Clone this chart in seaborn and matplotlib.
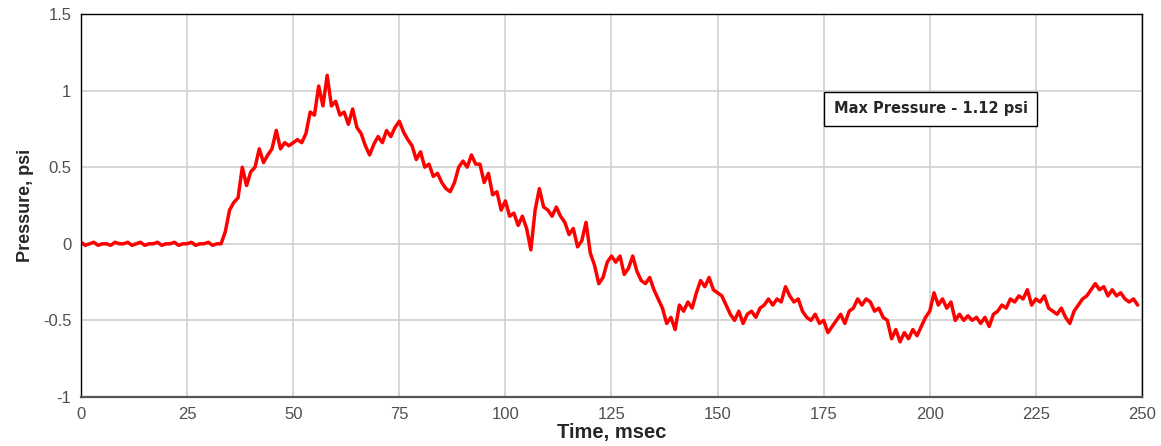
import pandas as pd
import matplotlib
matplotlib.use("Agg")
import matplotlib.pyplot as plt
import seaborn as sns

# Pressure trace, one sample per msec (0..249)
time_ms = list(range(250))
pressure_psi = [
    0.01, -0.01, 0.00, 0.01, -0.01, 0.00, 0.00, -0.01, 0.01, 0.00,
    0.00, 0.01, -0.01, 0.00, 0.01, -0.01, 0.00, 0.00, 0.01, -0.01,
    0.00, 0.00, 0.01, -0.01, 0.00, 0.00, 0.01, -0.01, 0.00, 0.00,
    0.01, -0.01, 0.00, 0.00, 0.08, 0.22, 0.27, 0.30, 0.50, 0.38,
    0.47, 0.50, 0.62, 0.53, 0.58, 0.62, 0.74, 0.62, 0.66, 0.64,
    0.66, 0.68, 0.66, 0.72, 0.86, 0.84, 1.03, 0.90, 1.10, 0.90,
    0.93, 0.84, 0.86, 0.78, 0.88, 0.76, 0.72, 0.64, 0.58, 0.65,
    0.70, 0.66, 0.74, 0.70, 0.76, 0.80, 0.73, 0.68, 0.64, 0.55,
    0.60, 0.50, 0.52, 0.44, 0.46, 0.40, 0.36, 0.34, 0.40, 0.50,
    0.54, 0.50, 0.58, 0.52, 0.52, 0.40, 0.46, 0.32, 0.34, 0.22,
    0.28, 0.18, 0.20, 0.12, 0.18, 0.10, -0.04, 0.22, 0.36, 0.24,
    0.22, 0.18, 0.24, 0.18, 0.14, 0.06, 0.10, -0.02, 0.02, 0.14,
    -0.06, -0.14, -0.26, -0.22, -0.12, -0.08, -0.12, -0.08, -0.20, -0.16,
    -0.08, -0.18, -0.24, -0.26, -0.22, -0.30, -0.36, -0.42, -0.52, -0.48,
    -0.56, -0.40, -0.44, -0.38, -0.42, -0.32, -0.24, -0.28, -0.22, -0.30,
    -0.32, -0.34, -0.40, -0.46, -0.50, -0.44, -0.52, -0.46, -0.44, -0.48,
    -0.42, -0.40, -0.36, -0.40, -0.36, -0.38, -0.28, -0.34, -0.38, -0.36,
    -0.44, -0.48, -0.50, -0.46, -0.52, -0.50, -0.58, -0.54, -0.50, -0.46,
    -0.52, -0.44, -0.42, -0.36, -0.40, -0.36, -0.38, -0.44, -0.42, -0.48,
    -0.50, -0.62, -0.56, -0.64, -0.58, -0.62, -0.56, -0.60, -0.54, -0.48,
    -0.44, -0.32, -0.40, -0.36, -0.42, -0.38, -0.50, -0.46, -0.50, -0.47,
    -0.50, -0.48, -0.52, -0.48, -0.54, -0.46, -0.44, -0.40, -0.42, -0.36,
    -0.38, -0.34, -0.36, -0.30, -0.40, -0.36, -0.38, -0.34, -0.42, -0.44,
    -0.46, -0.42, -0.48, -0.52, -0.44, -0.40, -0.36, -0.34, -0.30, -0.26,
    -0.30, -0.28, -0.34, -0.30, -0.34, -0.32, -0.36, -0.38, -0.36, -0.40,
]
y_ticks = [-1, -0.5, 0, 0.5, 1, 1.5]
y_tick_labels = ["-1", "-0.5", "0", "0.5", "1", "1.5"]
max_label = "Max Pressure - 1.12 psi"

df = pd.DataFrame({"Time": time_ms, "Pressure": pressure_psi})

sns.set_style("whitegrid")
plt.rcParams["font.family"] = ["Liberation Sans", "DejaVu Sans"]
plt.rcParams["axes.unicode_minus"] = False

fig = plt.figure(figsize=(11.61, 4.46), dpi=100)
ax = fig.add_axes([0.0698, 0.1099, 0.9138, 0.8587])

sns.lineplot(data=df, x="Time", y="Pressure", color="#ff0000", linewidth=2.5, ax=ax)

ax.set_xlim(0, 250)
ax.set_ylim(-1, 1.5)
ax.set_xticks(range(0, 251, 25))
ax.set_yticks(y_ticks)
ax.set_yticklabels(y_tick_labels)
ax.grid(True, color="#d0d0d0", linewidth=1.2)
ax.tick_params(axis="both", length=0, labelsize=12, labelcolor="#505050", pad=7)

for s in ax.spines.values():
    s.set_visible(True)
    s.set_color("#000000")
    s.set_linewidth(1.0)
ax.spines["bottom"].set_color("#555555")
ax.spines["bottom"].set_linewidth(1.6)

ax.set_xlabel("Time, msec", fontsize=14.5, fontweight="bold", labelpad=1)
ax.set_ylabel("Pressure, psi", fontsize=13, fontweight="bold", labelpad=6)

ax.text(200.2, 0.88, max_label, ha="center", va="center", fontsize=10.5,
        fontweight="bold", family="DejaVu Sans",
        bbox=dict(boxstyle="square,pad=0.65", facecolor="white",
                  edgecolor="#000000", linewidth=1.0))

fig.savefig("out.png", dpi=100)
